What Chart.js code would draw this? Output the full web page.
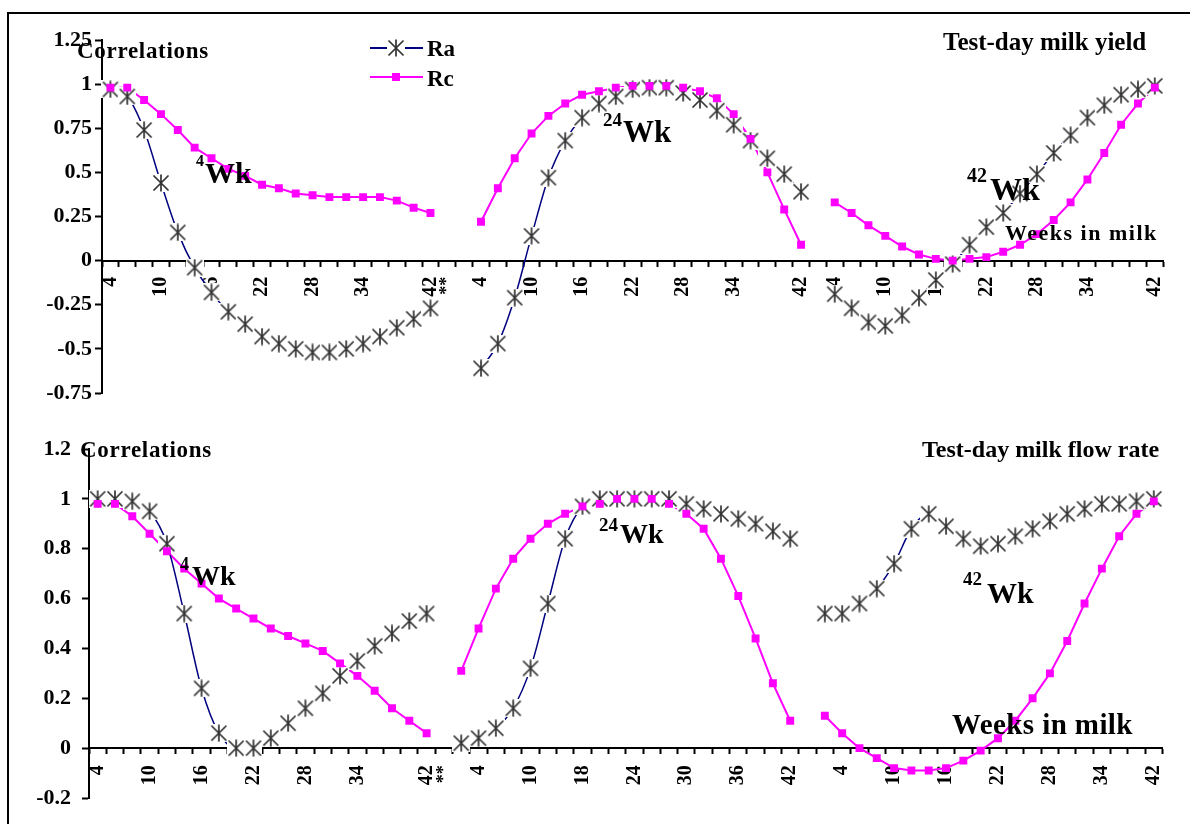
<!DOCTYPE html>
<html>
<head>
<meta charset="utf-8">
<script src="https://cdn.jsdelivr.net/npm/chart.js@4.4.1/dist/chart.umd.min.js"></script>
<style>
html,body{margin:0;padding:0;background:#fff;}
body{width:1190px;height:824px;position:relative;overflow:hidden;}
.cw{position:absolute;left:0;width:1190px;height:412px;}
.frame{position:absolute;left:7px;top:12px;width:1210px;height:840px;border:2px solid #000;box-sizing:border-box;pointer-events:none;}
.t{position:absolute;font-family:'Liberation Serif','Times New Roman',serif;font-weight:bold;line-height:1;white-space:nowrap;color:#000;}
</style>
</head>
<body>
<div class="cw" style="top:0"><canvas id="c1"></canvas></div>
<div class="cw" style="top:412px"><canvas id="c2"></canvas></div>
<div class="frame"></div>
<script>
// ---------- category / tick labels ----------
const weekLabels      = ['4','','','10','','','16','','','22','','','28','','','34','','','','42'];
const flowMidLabels   = ['','4','','','10','','','18','','','24','','','30','','','36','','','42'];
const flowLateLabels  = ['','4','','','10','','','16','','','22','','','28','','','34','','','42'];

const yieldYTicks  = [-0.75,-0.5,-0.25,0,0.25,0.5,0.75,1,1.25];
const yieldYLabels = ['-0.75','-0.5','-0.25','0','0.25','0.5','0.75','1','1.25'];
const flowYTicks   = [-0.2,0,0.2,0.4,0.6,0.8,1,1.2];
const flowYLabels  = ['-0.2','0','0.2','0.4','0.6','0.8','1','1.2'];

// ---------- Test-day milk yield ----------
const yieldRa4  = [0.97,0.93,0.74,0.44,0.16,-0.04,-0.18,-0.29,-0.36,-0.43,-0.47,-0.50,-0.52,-0.52,-0.50,-0.47,-0.43,-0.38,-0.33,-0.27];
const yieldRc4  = [0.98,0.98,0.91,0.83,0.74,0.64,0.58,0.52,0.48,0.43,0.41,0.38,0.37,0.36,0.36,0.36,0.36,0.34,0.30,0.27];
const yieldRa24 = [-0.61,-0.47,-0.21,0.14,0.47,0.68,0.81,0.89,0.93,0.97,0.98,0.98,0.95,0.91,0.85,0.77,0.68,0.58,0.49,0.39];
const yieldRc24 = [0.22,0.41,0.58,0.72,0.82,0.89,0.94,0.96,0.98,0.99,0.99,0.99,0.98,0.96,0.92,0.83,0.69,0.50,0.29,0.09];
const yieldRa42 = [-0.19,-0.27,-0.35,-0.37,-0.31,-0.21,-0.11,-0.02,0.09,0.19,0.27,0.38,0.49,0.61,0.71,0.81,0.88,0.94,0.97,0.99];
const yieldRc42 = [0.33,0.27,0.20,0.14,0.08,0.035,0.01,0.0,0.01,0.02,0.05,0.09,0.15,0.23,0.33,0.46,0.61,0.77,0.89,0.98];

// ---------- Test-day milk flow rate ----------
const flowRa4  = [1.00,1.00,0.99,0.95,0.82,0.54,0.24,0.06,0.00,0.00,0.04,0.10,0.16,0.22,0.29,0.35,0.41,0.46,0.51,0.54];
const flowRc4  = [0.98,0.98,0.93,0.86,0.79,0.72,0.66,0.60,0.56,0.52,0.48,0.45,0.42,0.39,0.34,0.29,0.23,0.16,0.11,0.06];
const flowRa24 = [0.02,0.04,0.08,0.16,0.32,0.58,0.84,0.97,1.00,1.00,1.00,1.00,1.00,0.98,0.96,0.94,0.92,0.90,0.87,0.84];
const flowRc24 = [0.31,0.48,0.64,0.76,0.84,0.90,0.94,0.97,0.98,1.00,1.00,1.00,0.98,0.94,0.88,0.76,0.61,0.44,0.26,0.11];
const flowRa42 = [0.54,0.54,0.58,0.64,0.74,0.88,0.94,0.89,0.84,0.81,0.82,0.85,0.88,0.91,0.94,0.96,0.98,0.98,0.99,1.00];
const flowRc42 = [0.13,0.06,0.00,-0.04,-0.08,-0.09,-0.09,-0.08,-0.05,-0.01,0.04,0.11,0.20,0.30,0.43,0.58,0.72,0.85,0.94,0.99];

// ---------- build category tables ----------
const yieldLabels = [...weekLabels, '**', '', ...weekLabels, '', ...weekLabels];
const yieldRa = [...yieldRa4, null, null, ...yieldRa24, null, ...yieldRa42];
const yieldRc = [...yieldRc4, null, null, ...yieldRc24, null, ...yieldRc42];

const flowLabels = [...weekLabels, '**', ...flowMidLabels, '', ...flowLateLabels];
const flowRa = [...flowRa4, null, ...flowRa24, null, ...flowRa42];
const flowRc = [...flowRc4, null, ...flowRc24, null, ...flowRc42];

const F = "'Liberation Serif','Times New Roman',serif";
Chart.defaults.font.family = F;

function starImg(){
  const n = 18, c = document.createElement('canvas');
  c.width = n; c.height = n;
  const g = c.getContext('2d');
  g.fillStyle = '#fff'; g.fillRect(0,0,n,n);
  g.strokeStyle = '#333'; g.lineWidth = 1.7;
  g.beginPath();
  g.moveTo(1.5,1.5); g.lineTo(n-1.5,n-1.5);
  g.moveTo(n-1.5,1.5); g.lineTo(1.5,n-1.5);
  g.moveTo(n/2,0.5); g.lineTo(n/2,n-0.5);
  g.stroke();
  return c;
}
const STAR = starImg();

function buildChart(id, o){
  return new Chart(document.getElementById(id).getContext('2d'), {
    type: 'line',
    data: {
      labels: o.labels,
      datasets: [
        {label:'Rc line', data:o.rc, borderColor:'#FF00FF', borderWidth:2, pointRadius:0, tension:0, spanGaps:false, order:3},
        {label:'Ra', data:o.ra, borderColor:'#000080', borderWidth:1.5, cubicInterpolationMode:'monotone', pointStyle:STAR, pointRadius:8, spanGaps:false, order:2},
        {label:'Rc', data:o.rc, showLine:false, pointStyle:'rect', pointRadius:5.6, pointBackgroundColor:'#FF00FF', pointBorderColor:'#FF00FF', pointBorderWidth:0, order:1}
      ]
    },
    options: {
      responsive: true, maintainAspectRatio: false, animation: false, events: [],
      layout: {padding: o.padding},
      plugins: {legend:{display:false}, tooltip:{enabled:false}},
      scales: {
        x: {
          type:'category', offset:true, position:{y:0},
          grid:{display:true, offset:true, drawOnChartArea:false, drawTicks:true, tickLength:5, tickWidth:2, tickColor:'#000'},
          border:{display:true, color:'#000', width:2},
          ticks:{autoSkip:false, minRotation:90, maxRotation:90, padding:o.xpad, color:'#000',
            font:(c)=> (c.tick && c.tick.label === '**') ? {family:F, size:18, weight:'bold'} : {family:F, size:20, weight:'bold'}}
        },
        y: {
          type:'linear', min:o.ymin, max:o.ymax,
          afterBuildTicks:(s)=>{ s.ticks = o.yticks.map(v=>({value:v})); },
          afterFit:(s)=>{ s.width = o.yw; },
          grid:{display:true, drawOnChartArea:false, drawTicks:true, tickLength:7, tickWidth:2, tickColor:'#000'},
          border:{display:true, color:'#000', width:2},
          ticks:{color:'#000', padding:o.ypad, font:{family:F, size:22, weight:'bold'},
            callback:(v,i)=> o.ylabels[i]}
        }
      }
    },
    plugins: o.plugins || []
  });
}

const legendPlugin = {
  id:'customLegend',
  afterDatasetsDraw(chart){
    const g = chart.ctx; g.save();
    g.lineWidth = 2;
    g.strokeStyle = '#000080'; g.beginPath(); g.moveTo(370,48); g.lineTo(423,48); g.stroke();
    g.drawImage(STAR, 396 - STAR.width/2, 48 - STAR.height/2);
    g.strokeStyle = '#FF00FF'; g.beginPath(); g.moveTo(370,77); g.lineTo(423,77); g.stroke();
    g.fillStyle = '#FF00FF'; g.fillRect(392,73,8,8);
    g.restore();
  }
};

buildChart('c1', {labels:yieldLabels, ra:yieldRa, rc:yieldRc, ymin:-0.75, ymax:1.25,
  yticks:yieldYTicks, ylabels:yieldYLabels, yw:102, ypad:3, xpad:11,
  padding:{top:40, bottom:19, left:0, right:25}, plugins:[legendPlugin]});
buildChart('c2', {labels:flowLabels, ra:flowRa, rc:flowRc, ymin:-0.2, ymax:1.2,
  yticks:flowYTicks, ylabels:flowYLabels, yw:89, ypad:11, xpad:12,
  padding:{top:37, bottom:26, left:0, right:25}});

// ---------- text annotations ----------
function addText(txt, left, baseline, size, ls){
  const d = document.createElement('div');
  d.className = 't'; d.textContent = txt;
  d.style.left = left + 'px';
  d.style.top = (baseline - 0.8375*size) + 'px';
  d.style.fontSize = size + 'px';
  if (ls) d.style.letterSpacing = ls + 'px';
  document.body.appendChild(d);
}
addText('Correlations', 77, 58, 23, 0.7);
addText('Correlations', 80, 457, 23, 0.7);
addText('Test-day milk yield', 943, 50, 25);
addText('Test-day milk flow rate', 922, 457, 24);
addText('Weeks in milk', 1005, 240, 22, 1.5);
addText('Weeks in milk', 952, 734, 29, 0.4);
addText('Ra', 427, 56, 23);
addText('Rc', 427, 86, 23);
// week annotations
addText('4', 196, 166.5, 16);  addText('Wk', 205, 183, 30);
addText('24', 603, 125.5, 19); addText('Wk', 623, 141.5, 31);
addText('42', 967, 182, 20);   addText('Wk', 990, 200, 32);
addText('4', 180, 570, 18);    addText('Wk', 192, 585, 28);
addText('24', 599, 530.5, 19); addText('Wk', 620, 543, 28);
addText('42', 963, 585, 19);   addText('Wk', 987, 603, 30);
</script>
</body>
</html>
